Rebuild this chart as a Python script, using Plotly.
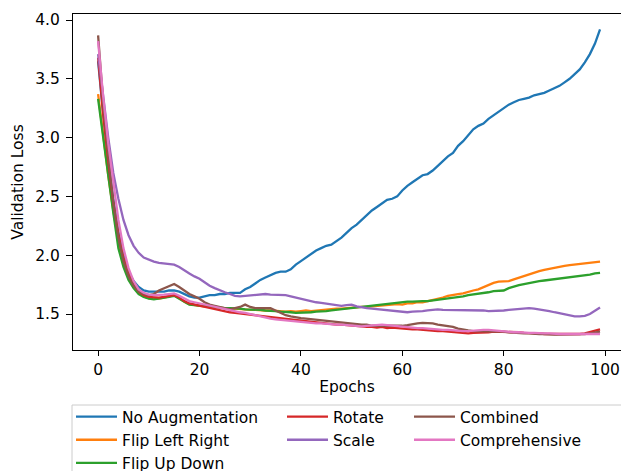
import plotly.graph_objects as go

epochs = list(range(100))

no_aug = [3.65, 3.20, 2.82, 2.48, 2.20, 2.00, 1.86, 1.78, 1.73, 1.70,
          1.69, 1.69, 1.69, 1.69, 1.70, 1.70, 1.69, 1.67, 1.65, 1.64,
          1.64, 1.65, 1.66, 1.66, 1.67, 1.67, 1.68, 1.68, 1.68, 1.71,
          1.73, 1.76, 1.79, 1.81, 1.83, 1.85, 1.86, 1.86, 1.88, 1.92,
          1.95, 1.98, 2.01, 2.04, 2.06, 2.08, 2.09, 2.12, 2.15, 2.19,
          2.23, 2.26, 2.30, 2.34, 2.38, 2.41, 2.44, 2.47, 2.48, 2.50,
          2.55, 2.59, 2.62, 2.65, 2.68, 2.69, 2.72, 2.76, 2.80, 2.84,
          2.87, 2.93, 2.97, 3.02, 3.07, 3.10, 3.12, 3.16, 3.19, 3.22,
          3.25, 3.28, 3.30, 3.32, 3.33, 3.34, 3.36, 3.37, 3.38, 3.40,
          3.42, 3.44, 3.47, 3.50, 3.54, 3.58, 3.64, 3.71, 3.80, 3.92]

flip_lr = [3.37, 3.00, 2.68, 2.38, 2.12, 1.94, 1.81, 1.73, 1.68, 1.65,
           1.635, 1.63, 1.63, 1.64, 1.65, 1.66, 1.635, 1.605, 1.585, 1.575,
           1.57, 1.565, 1.56, 1.555, 1.55, 1.55, 1.545, 1.545, 1.54, 1.54,
           1.535, 1.535, 1.53, 1.53, 1.53, 1.525, 1.525, 1.52, 1.525, 1.52,
           1.525, 1.53, 1.525, 1.53, 1.535, 1.535, 1.54, 1.545, 1.545, 1.55,
           1.55, 1.555, 1.56, 1.56, 1.565, 1.57, 1.575, 1.575, 1.58, 1.585,
           1.58, 1.59, 1.59, 1.60, 1.60, 1.61, 1.615, 1.625, 1.64, 1.655,
           1.665, 1.67, 1.675, 1.69, 1.70, 1.71, 1.73, 1.75, 1.765, 1.775,
           1.775, 1.78, 1.795, 1.81, 1.825, 1.84, 1.855, 1.865, 1.875, 1.885,
           1.895, 1.90, 1.91, 1.915, 1.92, 1.925, 1.93, 1.935, 1.94, 1.945]

flip_ud = [3.33, 2.98, 2.68, 2.36, 2.06, 1.90, 1.79, 1.72, 1.67, 1.645,
           1.63, 1.625, 1.63, 1.635, 1.645, 1.655, 1.63, 1.60, 1.58, 1.575,
           1.57, 1.565, 1.56, 1.56, 1.555, 1.55, 1.55, 1.55, 1.545, 1.54,
           1.54, 1.535, 1.535, 1.53, 1.53, 1.525, 1.52, 1.52, 1.515, 1.51,
           1.51, 1.51, 1.515, 1.52, 1.52, 1.525, 1.53, 1.535, 1.54, 1.545,
           1.55, 1.555, 1.56, 1.57, 1.575, 1.58, 1.585, 1.59, 1.595, 1.60,
           1.60, 1.605, 1.605, 1.61, 1.61, 1.61, 1.615, 1.62, 1.625, 1.63,
           1.635, 1.645, 1.65, 1.66, 1.665, 1.675, 1.68, 1.685, 1.695, 1.70,
           1.70, 1.72, 1.735, 1.745, 1.755, 1.765, 1.775, 1.78, 1.785, 1.79,
           1.795, 1.80, 1.805, 1.81, 1.815, 1.825, 1.83, 1.835, 1.845, 1.85]

rotate = [3.68, 3.20, 2.80, 2.45, 2.18, 1.98, 1.84, 1.75, 1.69, 1.66,
          1.645, 1.64, 1.64, 1.645, 1.65, 1.66, 1.64, 1.61, 1.59, 1.58,
          1.57, 1.56, 1.55, 1.54, 1.53, 1.525, 1.515, 1.51, 1.505, 1.50,
          1.495, 1.49, 1.485, 1.475, 1.47, 1.465, 1.46, 1.455, 1.45, 1.445,
          1.44, 1.435, 1.43, 1.43, 1.425, 1.42, 1.415, 1.41, 1.41, 1.405,
          1.40, 1.40, 1.395, 1.39, 1.39, 1.385, 1.39, 1.38, 1.385, 1.38,
          1.38, 1.375, 1.37, 1.37, 1.365, 1.36, 1.36, 1.355, 1.355, 1.35,
          1.35, 1.345, 1.34, 1.335, 1.34, 1.34, 1.345, 1.345, 1.35, 1.35,
          1.35, 1.35, 1.345, 1.345, 1.34, 1.34, 1.335, 1.335, 1.33, 1.33,
          1.33, 1.325, 1.325, 1.325, 1.325, 1.33, 1.335, 1.345, 1.355, 1.37]

scale = [3.71, 3.35, 3.00, 2.70, 2.48, 2.30, 2.17, 2.08, 2.02, 1.98,
         1.96, 1.945, 1.935, 1.93, 1.925, 1.92, 1.90, 1.87, 1.845, 1.82,
         1.80, 1.77, 1.74, 1.72, 1.70, 1.685, 1.67, 1.655, 1.65, 1.655,
         1.66, 1.665, 1.67, 1.67, 1.665, 1.665, 1.665, 1.66, 1.65, 1.64,
         1.625, 1.615, 1.605, 1.60, 1.595, 1.59, 1.585, 1.575, 1.57, 1.575,
         1.58, 1.565, 1.555, 1.55, 1.545, 1.54, 1.535, 1.53, 1.525, 1.52,
         1.52, 1.515, 1.52, 1.52, 1.525, 1.53, 1.535, 1.54, 1.535, 1.535,
         1.53, 1.53, 1.53, 1.53, 1.53, 1.53, 1.53, 1.525, 1.525, 1.525,
         1.53, 1.535, 1.54, 1.545, 1.55, 1.55, 1.545, 1.54, 1.535, 1.525,
         1.515, 1.505, 1.495, 1.485, 1.48, 1.48, 1.485, 1.50, 1.525, 1.555]

combined = [3.87, 3.30, 2.85, 2.45, 2.15, 1.95, 1.82, 1.74, 1.69, 1.67,
            1.66, 1.67, 1.70, 1.72, 1.74, 1.755, 1.73, 1.70, 1.67, 1.65,
            1.63, 1.60, 1.58, 1.57, 1.56, 1.55, 1.54, 1.55, 1.56, 1.58,
            1.56, 1.55, 1.55, 1.55, 1.55, 1.53, 1.51, 1.49, 1.48, 1.47,
            1.465, 1.46, 1.455, 1.45, 1.45, 1.445, 1.44, 1.435, 1.43, 1.425,
            1.42, 1.415, 1.41, 1.41, 1.40, 1.40, 1.40, 1.395, 1.395, 1.395,
            1.40, 1.405, 1.415, 1.42, 1.425, 1.425, 1.42, 1.41, 1.405, 1.40,
            1.39, 1.375, 1.365, 1.36, 1.355, 1.355, 1.355, 1.355, 1.355, 1.35,
            1.35, 1.345, 1.34, 1.34, 1.335, 1.335, 1.33, 1.33, 1.33, 1.325,
            1.325, 1.325, 1.325, 1.325, 1.325, 1.325, 1.33, 1.335, 1.34, 1.35]

comprehensive = [3.82, 3.35, 2.95, 2.60, 2.30, 2.06, 1.89, 1.78, 1.71, 1.68,
                 1.665, 1.66, 1.66, 1.665, 1.67, 1.675, 1.655, 1.63, 1.61, 1.60,
                 1.59, 1.58, 1.57, 1.56, 1.55, 1.54, 1.53, 1.525, 1.515, 1.51,
                 1.50, 1.49, 1.475, 1.465, 1.46, 1.455, 1.45, 1.445, 1.44, 1.44,
                 1.435, 1.43, 1.425, 1.42, 1.42, 1.415, 1.415, 1.41, 1.41, 1.405,
                 1.40, 1.40, 1.395, 1.40, 1.405, 1.41, 1.41, 1.405, 1.40, 1.40,
                 1.395, 1.39, 1.385, 1.38, 1.38, 1.375, 1.37, 1.37, 1.365, 1.365,
                 1.36, 1.36, 1.355, 1.355, 1.36, 1.36, 1.365, 1.365, 1.36, 1.355,
                 1.35, 1.35, 1.345, 1.345, 1.34, 1.34, 1.34, 1.335, 1.335, 1.335,
                 1.33, 1.33, 1.33, 1.33, 1.33, 1.33, 1.33, 1.33, 1.33, 1.33]

series = [
    ("No Augmentation", no_aug, "#1f77b4", "legend"),
    ("Flip Left Right", flip_lr, "#ff7f0e", "legend"),
    ("Flip Up Down", flip_ud, "#2ca02c", "legend"),
    ("Rotate", rotate, "#d62728", "legend2"),
    ("Scale", scale, "#9467bd", "legend2"),
    ("Combined", combined, "#8c564b", "legend3"),
    ("Comprehensive", comprehensive, "#e377c2", "legend3"),
]

x_ticks = [0, 20, 40, 60, 80, 100]
y_ticks = [1.5, 2.0, 2.5, 3.0, 3.5, 4.0]

FONT = "DejaVu Sans"
FS = 15.5

fig = go.Figure()
for name, vals, color, lg in series:
    fig.add_trace(go.Scatter(
        x=epochs, y=vals, mode="lines", name=name,
        line=dict(color=color, width=2.3),
        legend=lg, legendgroup=name,
    ))

W, H = 621, 471
ML, MR, MT, MB = 73, 0, 14, 121
PW = W - ML - MR
PH = H - MT - MB

def px_x(p):
    return (p - ML) / PW

def px_y(p):
    return (H - MB - p) / PH

leg_common = dict(
    orientation="v", xanchor="left", yanchor="top",
    bgcolor="rgba(0,0,0,0)", borderwidth=0,
    font=dict(family=FONT, size=FS, color="#000000"),
    itemwidth=41, tracegroupgap=0, traceorder="grouped",
)

fig.update_layout(
    width=W, height=H,
    margin=dict(l=ML, r=MR, t=MT, b=MB, pad=0, autoexpand=False),
    paper_bgcolor="white", plot_bgcolor="white",
    font=dict(family=FONT, size=FS, color="#000000"),
    showlegend=True,
    legend=dict(x=px_x(71), y=px_y(400), **leg_common),
    legend2=dict(x=px_x(282), y=px_y(400), **leg_common),
    legend3=dict(x=px_x(409), y=px_y(400), **leg_common),
    xaxis=dict(
        range=[-4.95, -4.95 + PW / 5.07],
        tickvals=x_ticks, ticktext=[str(v) for v in x_ticks],
        showgrid=False, zeroline=False,
        showline=True, linecolor="#000000", linewidth=1, mirror=True,
        ticks="outside", ticklen=5, tickwidth=1, tickcolor="#000000",
        tickfont=dict(family=FONT, size=FS, color="#000000"),
        title=dict(text="Epochs", font=dict(family=FONT, size=FS), standoff=3),
    ),
    yaxis=dict(
        range=[1.194, 4.051],
        tickvals=y_ticks, ticktext=["%.1f" % v for v in y_ticks],
        showgrid=False, zeroline=False,
        showline=True, linecolor="#000000", linewidth=1, mirror=False,
        ticks="outside", ticklen=6, tickwidth=1, tickcolor="#000000",
        ticklabelstandoff=3,
        tickfont=dict(family=FONT, size=FS, color="#000000"),
        title=dict(text="Validation Loss", font=dict(family=FONT, size=FS), standoff=7),
    ),
    shapes=[dict(
        type="rect", xref="paper", yref="paper",
        x0=px_x(72), x1=px_x(640), y0=px_y(405), y1=px_y(490),
        line=dict(color="#cccccc", width=1), fillcolor="rgba(255,255,255,0.8)",
        layer="above",
    )],
)

fig.write_html("out.html", config={"displayModeBar": False},
               post_script="document.body.style.margin='0';")
